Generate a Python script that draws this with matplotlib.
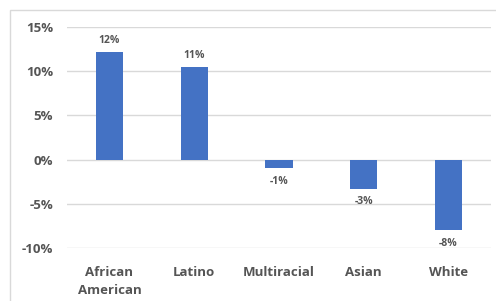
import matplotlib.pyplot as plt
from matplotlib.patches import Rectangle

categories = ["African\nAmerican", "Latino", "Multiracial", "Asian", "White"]
values = [12.2, 10.5, -1.0, -3.3, -8.0]
labels = ["12%", "11%", "-1%", "-3%", "-8%"]
yticks = [-10, -5, 0, 5, 10, 15]
ytick_labels = ["-10%", "-5%", "0%", "5%", "10%", "15%"]

W, H = 496, 301
fig = plt.figure(figsize=(W / 100, H / 100), dpi=100)
fig.patch.set_facecolor("white")
fig.patches.append(Rectangle((10 / W, -0.1), 1.2, 1 - 10 / H + 0.1, transform=fig.transFigure,
                             fill=False, edgecolor="#d9d9d9", linewidth=1))

ax = fig.add_axes([67 / W, 1 - 248 / H, (491 - 67) / W, (248 - 27) / H])
x = range(len(categories))
ax.bar(x, values, width=0.32, color="#4472c4", zorder=3)
ax.set_ylim(-10, 15)
ax.set_xlim(-0.5, len(categories) - 0.5)
ax.set_yticks(yticks)
ax.set_yticklabels(ytick_labels)
ax.grid(axis="y", color="#d9d9d9", linewidth=1, zorder=0)
for s in ax.spines.values():
    s.set_visible(False)
ax.tick_params(axis="both", length=0, colors="#595959")
ax.tick_params(axis="y", pad=10)
ax.tick_params(axis="x", pad=13)
ax.set_xticks(list(x))
ax.set_xticklabels(categories, linespacing=1.45)
for lab in ax.get_xticklabels() + ax.get_yticklabels():
    lab.set_fontfamily("Open Sans")
    lab.set_fontweight("bold")
    lab.set_fontsize(9.5)
    lab.set_color("#555555")

for xi, v, t in zip(x, values, labels):
    if v >= 0:
        ax.annotate(t, (xi, v), xytext=(0, 4), textcoords="offset points", ha="center", va="bottom",
                    fontsize=7.5, fontweight="bold", color="#555555", family="Open Sans", zorder=4)
    else:
        ax.annotate(t, (xi, v), xytext=(0, -5.5), textcoords="offset points", ha="center", va="top",
                    fontsize=7.5, fontweight="bold", color="#555555", family="Open Sans", zorder=4)

fig.savefig("out.png", dpi=100)
